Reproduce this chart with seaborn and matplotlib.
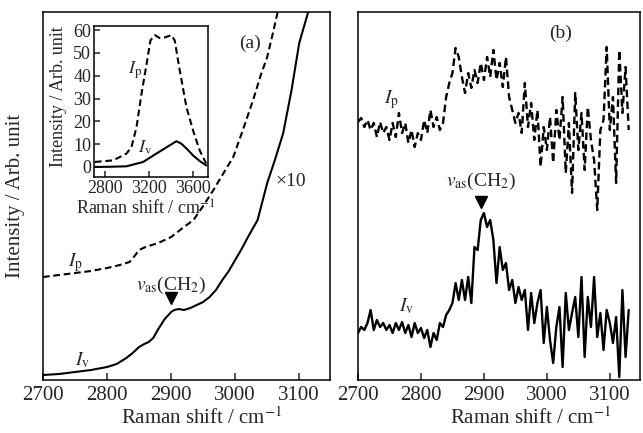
import matplotlib
matplotlib.use("Agg")
import matplotlib.pyplot as plt
import seaborn as sns

# ---- panel (a): main curves (heights, arb. units)
shift_iv_a = [2700, 2725, 2750, 2775, 2800, 2815, 2830, 2840, 2850, 2858, 2865, 2872,
              2880, 2890, 2900, 2905, 2912, 2920, 2930, 2940, 2950, 2960, 2970, 2980,
              2990, 3000, 3010, 3020, 3035, 3050, 3062, 3075, 3088, 3100, 3114, 3125]
iv_a = [5, 6, 8, 10, 13, 16, 22, 27, 33, 36, 38, 42, 51, 61, 68, 70, 71, 70, 72, 75, 78,
        83, 90, 100, 109, 120, 131, 143, 160, 197, 220, 247, 290, 337, 368, 400]

shift_ip_a = [2700, 2725, 2750, 2775, 2800, 2820, 2835, 2843, 2850, 2860, 2870, 2880,
              2890, 2900, 2910, 2920, 2935, 2950, 2966, 2980, 2997, 3012, 3028, 3040,
              3050, 3060, 3067, 3075]
ip_a = [103, 105, 107, 109, 112, 115, 118, 124, 130, 133, 135, 137, 140, 143, 148, 153,
        160, 174, 190, 205, 223, 250, 280, 305, 323, 350, 370, 395]

# ---- inset of panel (a)
shift_ip_in = [2709, 2876, 2997, 3042, 3088, 3133, 3179, 3215, 3255, 3300, 3345, 3406,
               3436, 3482, 3543, 3603, 3664, 3709, 3724]
ip_in = [2.2, 2.9, 5.9, 8.8, 17.5, 32, 45, 55.5, 57.8, 56.5, 56.8, 57.8, 55.5, 42.4,
         26.3, 16.1, 7.3, 2.9, 1.5]
shift_iv_in = [2709, 2850, 2997, 3148, 3270, 3391, 3452, 3497, 3550, 3603, 3664, 3724]
iv_in = [0, 0.1, 0.3, 2.2, 5.9, 9.5, 11.3, 10.2, 7.8, 5.1, 2.6, 0.7]

# ---- panel (b): noisy spectra, every 5 cm-1
shift_b = list(range(2700, 3131, 5))
ip_b = [258, 262, 253, 260, 250, 257, 243, 258, 247, 253, 240, 257, 243, 267, 247, 257,
        237, 250, 233, 247, 240, 260, 247, 270, 253, 263, 250, 257, 283, 297, 307, 332,
        323, 303, 287, 307, 292, 310, 297, 317, 300, 323, 303, 330, 300, 317, 293, 323,
        283, 270, 257, 267, 247, 297, 253, 277, 240, 270, 213, 253, 230, 263, 217, 270,
        240, 283, 207, 257, 187, 287, 230, 267, 210, 273, 240, 220, 170, 250, 260, 333,
        250, 283, 197, 330, 267, 313, 250]
iv_b = [47, 53, 50, 57, 70, 50, 60, 53, 57, 50, 55, 47, 57, 50, 58, 47, 55, 43, 57, 47,
        52, 42, 50, 33, 47, 40, 57, 53, 65, 70, 77, 97, 80, 100, 80, 103, 77, 133, 130,
        160, 167, 153, 160, 140, 97, 133, 110, 117, 90, 100, 77, 93, 80, 90, 50, 87, 57,
        77, 90, 37, 73, 40, 17, 53, 73, 13, 87, 50, 67, 83, 43, 103, 23, 83, 53, 103, 43,
        67, 30, 70, 57, 37, 63, 3, 90, 23, 70]

xticks = [2700, 2800, 2900, 3000, 3100]
inset_xticks = [2800, 3200, 3600]
inset_yticks = [0, 10, 20, 30, 40, 50, 60]

sns.set_style("ticks")
plt.rcParams["font.family"] = ["Liberation Serif", "DejaVu Serif"]
plt.rcParams["mathtext.fontset"] = "stix"
plt.rcParams["axes.linewidth"] = 1.1

fig = plt.figure(figsize=(6.43, 4.33), dpi=100)
ax_a = fig.add_axes([0.0669, 0.1224, 0.4463, 0.8499])
ax_b = fig.add_axes([0.5568, 0.1224, 0.4386, 0.8499])
ax_in = fig.add_axes([0.1462, 0.5912, 0.1773, 0.3487])

dash = (0, (3.2, 1.8))
lw = 1.5

# panel (a)
sns.lineplot(x=shift_iv_a, y=iv_a, ax=ax_a, color="black", lw=lw)
sns.lineplot(x=shift_ip_a, y=ip_a, ax=ax_a, color="black", lw=lw, linestyle=dash)
ax_a.plot([2900], [82], marker="v", color="black", ms=9, ls="none")
ax_a.text(2900, 95, r"$v_{\rm as}$(CH$_2$)", fontsize=14, ha="center", va="center")
ax_a.text(2750, 117, r"$I_{\rm p}$", fontsize=14, ha="center", va="center")
ax_a.text(2762, 20, r"$I_{\rm v}$", fontsize=14, ha="center", va="center")
ax_a.text(3023, 337, "(a)", fontsize=14, ha="center", va="center")
ax_a.text(3086, 198, "×10", fontsize=14, ha="center", va="center")

# panel (b)
sns.lineplot(x=shift_b, y=iv_b, ax=ax_b, color="black", lw=1.7)
sns.lineplot(x=shift_b, y=ip_b, ax=ax_b, color="black", lw=1.7, linestyle=dash)
ax_b.plot([2895], [178], marker="v", color="black", ms=9, ls="none")
ax_b.text(2896, 188, r"$v_{\rm as}$(CH$_2$)", fontsize=14, ha="center", va="bottom")
ax_b.text(2753, 280, r"$I_{\rm p}$", fontsize=14, ha="center", va="center")
ax_b.text(2777, 74, r"$I_{\rm v}$", fontsize=14, ha="center", va="center")
ax_b.text(3021, 347, "(b)", fontsize=14, ha="center", va="center")

for ax, lx in [(ax_a, 0.554), (ax_b, 0.613)]:
    ax.set_xlim(2700, 3148)
    ax.set_ylim(0, 368)
    ax.set_xticks(xticks)
    ax.set_yticks([])
    ax.tick_params(axis="x", direction="in", length=5, width=1.1, labelsize=15, pad=4)
    ax.set_xlabel("Raman shift / cm$^{-1}$", fontsize=15)
    ax.xaxis.set_label_coords(lx, -0.075)
    for s in ax.spines.values():
        s.set_visible(True)
        s.set_color("black")
ax_a.set_ylabel("Intensity / Arb. unit", fontsize=15)
ax_a.yaxis.set_label_coords(-0.063, 0.5)
ax_b.set_ylabel("")

# inset
sns.lineplot(x=shift_ip_in, y=ip_in, ax=ax_in, color="black", lw=lw, linestyle=dash)
sns.lineplot(x=shift_iv_in, y=iv_in, ax=ax_in, color="black", lw=lw)
ax_in.set_xlim(2700, 3740)
ax_in.set_ylim(-4.4, 61.8)
ax_in.set_xticks(inset_xticks)
ax_in.set_yticks(inset_yticks)
ax_in.tick_params(direction="in", length=4, width=1.1, labelsize=13, pad=2)
ax_in.text(3073, 42.4, r"$I_{\rm p}$", fontsize=13, ha="center", va="center")
ax_in.text(3164, 8.2, r"$I_{\rm v}$", fontsize=13, ha="center", va="center")
ax_in.set_xlabel("Raman shift / cm$^{-1}$", fontsize=13)
ax_in.xaxis.set_label_coords(0.45, -0.15)
ax_in.set_ylabel("Intensity / Arb. unit", fontsize=13)
ax_in.yaxis.set_label_coords(-0.237, 0.53)
ax_in.set_facecolor("white")
for s in ax_in.spines.values():
    s.set_visible(True)
    s.set_color("black")

fig.savefig("out.png", dpi=100)
